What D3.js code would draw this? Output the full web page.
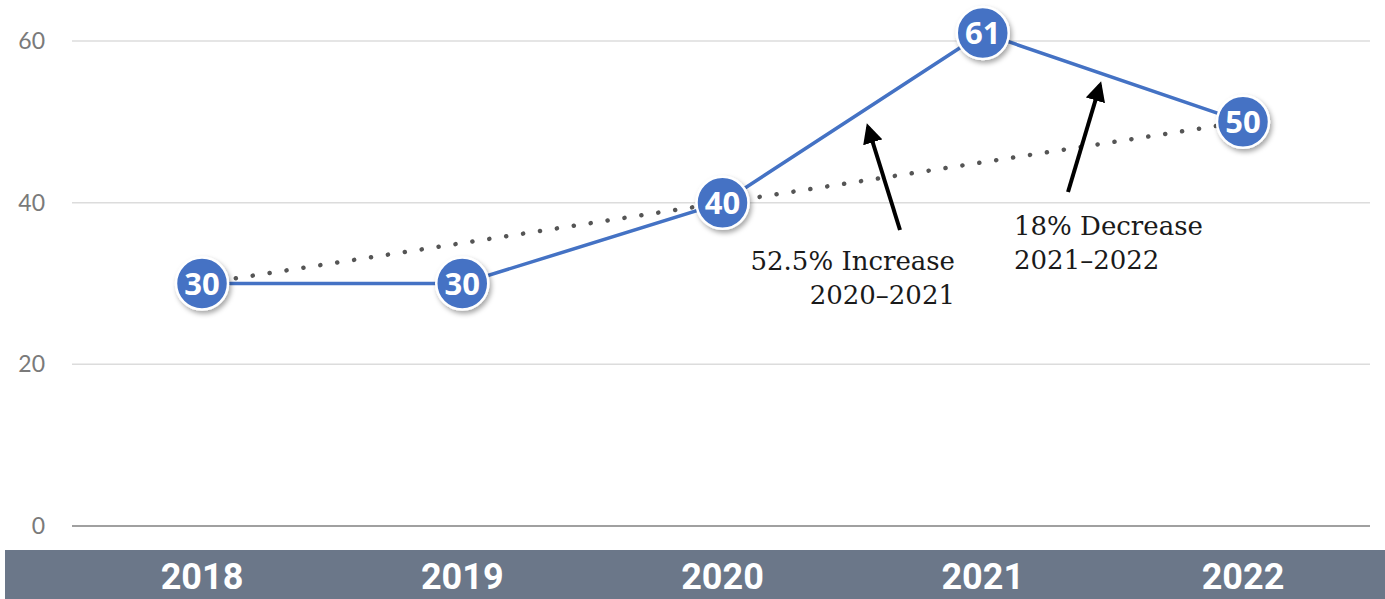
<!DOCTYPE html>
<html>
<head>
<meta charset="utf-8">
<script src="https://cdn.jsdelivr.net/npm/d3@7"></script>
<style>
  body { margin: 0; background: #fff; }
</style>
</head>
<body>
<svg id="chart"></svg>
<script>
const years = ["2018", "2019", "2020", "2021", "2022"];
const values = [30, 30, 40, 61, 50];
const yTicks = [0, 20, 40, 60];
const notes = [
    { lines: ["52.5% Increase", "2020\u20132021"], from: "2020", to: "2021" },
    { lines: ["18% Decrease", "2021\u20132022"], from: "2021", to: "2022" }
];

const width = 1385;
const height = 599;
const margin = { top: 41, right: 15, bottom: 73, left: 72 };

const svg = d3.select("#chart")
    .attr("width", width)
    .attr("height", height);

const defs = svg.append("defs");
const shadow = defs.append("filter").attr("id", "shadow")
    .attr("x", "-30%").attr("y", "-30%").attr("width", "170%").attr("height", "170%");
shadow.append("feDropShadow")
    .attr("dx", 2).attr("dy", 3).attr("stdDeviation", 2.5)
    .attr("flood-color", "#000").attr("flood-opacity", 0.35);

defs.append("marker")
    .attr("id", "arrow")
    .attr("viewBox", "0 0 10 10")
    .attr("refX", 8).attr("refY", 5)
    .attr("markerWidth", 5).attr("markerHeight", 5)
    .attr("orient", "auto")
    .append("path")
    .attr("d", "M0,0 L10,5 L0,10 Z")
    .attr("fill", "#000");

const x = d3.scalePoint()
    .domain(years)
    .range([202, 1243]);

const y = d3.scaleLinear()
    .domain([0, 60])
    .range([height - margin.bottom, margin.top]);

// grid lines
svg.append("g")
    .selectAll("line")
    .data(yTicks)
    .join("line")
    .attr("x1", margin.left)
    .attr("x2", width - margin.right)
    .attr("y1", d => y(d))
    .attr("y2", d => y(d))
    .attr("stroke", d => d === 0 ? "#a0a0a0" : "#dcdcdc")
    .attr("stroke-width", d => d === 0 ? 2 : 1.5);

// y tick labels
svg.append("g")
    .selectAll("text")
    .data(yTicks)
    .join("text")
    .attr("x", 45)
    .attr("y", d => y(d))
    .attr("dy", "0.35em")
    .attr("text-anchor", "end")
    .attr("fill", "#7a7a7a")
    .style("font-family", "Lato, 'Open Sans', sans-serif")
    .style("font-size", "23px")
    .text(d => d);

// bottom band with years
svg.append("rect")
    .attr("x", 5)
    .attr("y", 550)
    .attr("width", width - 5)
    .attr("height", height - 550)
    .attr("fill", "#6b7789");

svg.append("g")
    .selectAll("text")
    .data(years)
    .join("text")
    .attr("x", d => x(d))
    .attr("y", 589)
    .attr("text-anchor", "middle")
    .attr("fill", "#fff")
    .style("font-family", "Roboto, sans-serif")
    .style("font-weight", "bold")
    .style("font-size", "36px")
    .text(d => d);

// dotted trend from first to last point
svg.append("line")
    .attr("x1", x(years[0]))
    .attr("y1", y(values[0]))
    .attr("x2", x(years[years.length - 1]))
    .attr("y2", y(values[values.length - 1]))
    .attr("stroke", "#555")
    .attr("stroke-width", 4.5)
    .attr("stroke-linecap", "round")
    .attr("stroke-dasharray", "0.1,17");

// series line
const line = d3.line()
    .x((d, i) => x(years[i]))
    .y(d => y(d));

svg.append("path")
    .datum(values)
    .attr("d", line)
    .attr("fill", "none")
    .attr("stroke", "#4472c4")
    .attr("stroke-width", 3.5);

// markers
const pts = svg.append("g")
    .selectAll("g")
    .data(values)
    .join("g")
    .attr("transform", (d, i) => `translate(${x(years[i])},${y(d)})`);

pts.append("circle")
    .attr("r", 26)
    .attr("fill", "#4472c4")
    .attr("stroke", "#fff")
    .attr("stroke-width", 2.5)
    .attr("filter", "url(#shadow)");

pts.append("text")
    .attr("text-anchor", "middle")
    .attr("dy", "0.36em")
    .attr("fill", "#fff")
    .style("font-family", "'Open Sans', sans-serif")
    .style("font-weight", "bold")
    .style("font-size", "31px")
    .text(d => d);

// annotations
const annot = [
    { tx: 955, ty: 270, anchor: "end", ax1: 900, ay1: 230, ax2: 868, ay2: 127 },
    { tx: 1014, ty: 235, anchor: "start", ax1: 1068, ay1: 192, ax2: 1100, ay2: 85 }
];

notes.forEach((n, i) => {
    const a = annot[i];
    svg.append("line")
        .attr("x1", a.ax1).attr("y1", a.ay1)
        .attr("x2", a.ax2).attr("y2", a.ay2)
        .attr("stroke", "#000")
        .attr("stroke-width", 4)
        .attr("marker-end", "url(#arrow)");

    const t = svg.append("text")
        .attr("text-anchor", a.anchor)
        .attr("fill", "#1a1a1a")
        .style("font-family", "'DejaVu Serif', serif")
        .style("font-size", "26px");
    n.lines.forEach((l, j) => {
        t.append("tspan")
            .attr("x", a.tx)
            .attr("y", a.ty + j * 34)
            .text(l);
    });
});
</script>
</body>
</html>
